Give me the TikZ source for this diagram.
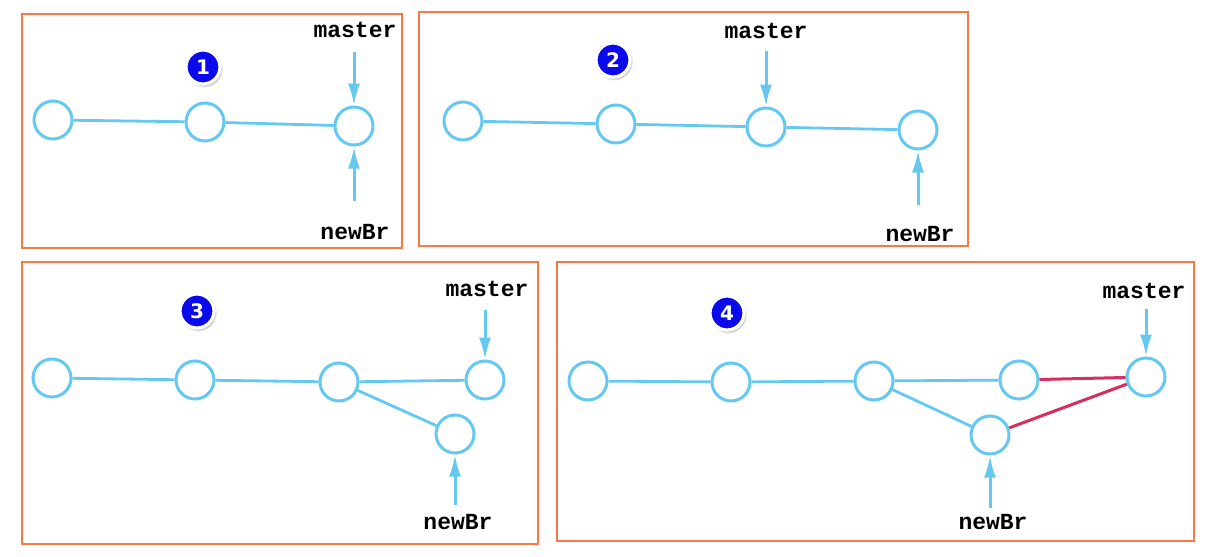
\documentclass[tikz,border=0pt]{standalone}
\usepackage{fontspec}
\setmonofont{Liberation Mono}
\setsansfont{DejaVu Sans}
\usetikzlibrary{positioning}
\usetikzlibrary{arrows.meta}
\usetikzlibrary{shadows}
\definecolor{gitblue}{RGB}{100,200,240}
\definecolor{framecol}{RGB}{250,120,70}
\definecolor{mergered}{RGB}{215,45,95}
\definecolor{badgeblue}{RGB}{10,10,235}
\tikzset{
  commit/.style={circle, draw=gitblue, line width=1.5pt, minimum size=19pt, inner sep=0pt, fill=white},
  edge/.style={draw=gitblue, line width=1.4pt},
  mergeedge/.style={draw=mergered, line width=1.5pt},
  ptr/.style={draw=gitblue, line width=1.5pt, -{Latex[length=11pt,width=6pt]}},
  ref/.style={font=\fontsize{11.5}{12}\selectfont\ttfamily\bfseries, inner sep=0pt},
  badge/.style={circle, fill=badgeblue, draw=white, line width=1.6pt, minimum size=17pt, inner sep=0pt,
    text=white, font=\fontsize{10}{11}\selectfont\sffamily\bfseries, circular drop shadow={shadow xshift=0.6pt, shadow yshift=-0.9pt, opacity=0.45}},
  panel/.style={draw=framecol, line width=1.3pt}
}

\begin{document}
\begin{tikzpicture}[x=0.5pt,y=-0.5pt]
    \useasboundingbox (0,0) rectangle (1216,557);
    %\draw [help lines,step=50] (0,0) grid (1216,557);

    % panel 1
    \draw [panel] (22,14) rectangle (402,248);
    \node [badge] (b1) at (203,67) {1};
    \node [commit] (a1) at (53,120) {};
    \node [commit] (a2) at (205,122) {};
    \node [commit] (a3) at (354,126) {};
    \node [ref] (a_master) at (355,30) {master};
    \node [ref] (a_newbr) at (355,232) {newBr};
    \coordinate [above = 27pt of a3] (a_m);
    \coordinate [below = 27pt of a3] (a_n);
    \draw [edge] (a1) -- (a2);
    \draw [edge] (a2) -- (a3);
    \draw [ptr] (a_m) -- (a3);
    \draw [ptr] (a_n) -- (a3);

    % panel 2
    \draw [panel] (419,12) rectangle (968,246);
    \node [badge] (b2) at (613,60) {2};
    \node [commit] (b1c) at (463,121) {};
    \node [commit] (b2c) at (616,124) {};
    \node [commit] (b3c) at (766,127) {};
    \node [commit] (b4c) at (918,130) {};
    \node [ref] (b_master) at (766,31) {master};
    \node [ref] (b_newbr) at (920,234) {newBr};
    \coordinate [above = 28pt of b3c] (b_m);
    \coordinate [below = 27pt of b4c] (b_n);
    \draw [edge] (b1c) -- (b2c);
    \draw [edge] (b2c) -- (b3c);
    \draw [edge] (b3c) -- (b4c);
    \draw [ptr] (b_m) -- (b3c);
    \draw [ptr] (b_n) -- (b4c);

    % panel 3
    \draw [panel] (22,262) rectangle (538,544);
    \node [badge] (b3) at (197,311) {3};
    \node [commit] (c1) at (52,378) {};
    \node [commit] (c2) at (195,380) {};
    \node [commit] (c3) at (339,382) {};
    \node [commit] (c4) at (485,380) {};
    \node [commit] (c5) at (455,434) {};
    \node [ref] (c_master) at (487,289) {master};
    \node [ref] (c_newbr) at (458,522) {newBr};
    \coordinate [above = 25pt of c4] (c_m);
    \coordinate [below = 25pt of c5] (c_n);
    \draw [edge] (c1) -- (c2);
    \draw [edge] (c2) -- (c3);
    \draw [edge] (c3) -- (c4);
    \draw [edge] (c3) -- (c5);
    \draw [ptr] (c_m) -- (c4);
    \draw [ptr] (c_n) -- (c5);

    % panel 4
    \draw [panel] (557,262) rectangle (1194,541);
    \node [badge] (b4) at (727,313) {4};
    \node [commit] (d1) at (588,381) {};
    \node [commit] (d2) at (731,382) {};
    \node [commit] (d3) at (874,381) {};
    \node [commit] (d4) at (1019,380) {};
    \node [commit] (d5) at (990,435) {};
    \node [commit] (d6) at (1146,377) {};
    \node [ref] (d_master) at (1144,291) {master};
    \node [ref] (d_newbr) at (993,522) {newBr};
    \coordinate [above = 24pt of d6] (d_m);
    \coordinate [below = 26pt of d5] (d_n);
    \draw [edge] (d1) -- (d2);
    \draw [edge] (d2) -- (d3);
    \draw [edge] (d3) -- (d4);
    \draw [edge] (d3) -- (d5);
    \draw [mergeedge] (d4) -- (d6);
    \draw [mergeedge] (d5) -- (d6);
    \draw [ptr] (d_m) -- (d6);
    \draw [ptr] (d_n) -- (d5);

\end{tikzpicture}
\end{document}
